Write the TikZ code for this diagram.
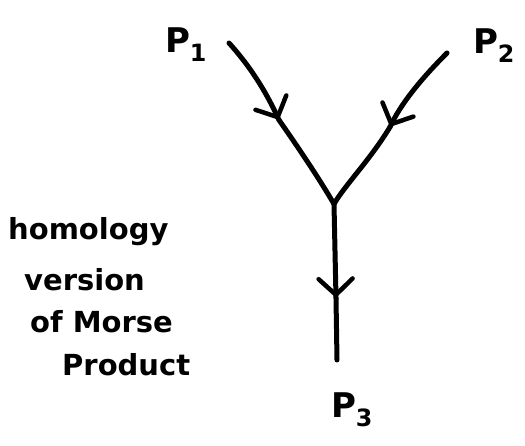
\documentclass[tikz,border=0pt]{standalone}
\usepackage{fontspec}
\setmainfont{DejaVu Sans}
\usetikzlibrary{arrows.meta,decorations.markings}
\tikzset{
  stroke/.style={line width=5pt, line cap=round, line join=round, black},
  endarrow/.style={postaction={decorate},decoration={markings,
    mark=at position #1 with {\arrow{Straight Barb[length=16pt,width=34pt,line width=4.5pt,line cap=round]}}}},
  lbl/.style={font=\bfseries\fontsize{34}{34}\selectfont, inner sep=0pt},
  hand/.style={font=\bfseries\fontsize{29}{29}\selectfont, inner sep=0pt, anchor=west}
}
\begin{document}
\begin{tikzpicture}[x=1pt,y=-1pt]
\useasboundingbox (0,0) rectangle (525,446);
\coordinate (a) at (229,43);
\coordinate (b) at (447,53);
\coordinate (j) at (334,204);
\coordinate (c) at (337,360);
\coordinate (ma) at (279,120);
\coordinate (mb) at (390,127);
\coordinate (mc) at (336,298);
\node[lbl] (p1) at (186,45) {P\textsubscript{1}};
\node[lbl] (p2) at (494,46) {P\textsubscript{2}};
\node[lbl] (p3) at (352,410) {P\textsubscript{3}};
\draw[stroke, endarrow=0.999] (a) .. controls (258,75) and (272,105) .. (ma);
\draw[stroke] (ma) .. controls (300,150) and (320,180) .. (j);
\draw[stroke, endarrow=0.999] (b) .. controls (420,80) and (400,105) .. (mb);
\draw[stroke] (mb) .. controls (370,160) and (345,185) .. (j);
\draw[stroke, endarrow=0.999] (j) -- (mc);
\draw[stroke] (mc) -- (c);
\node[hand] (t1) at (8,232) {homology};
\node[hand] (t2) at (24,280) {version};
\node[hand] (t3) at (30,322) {of Morse};
\node[hand] (t4) at (62,365) {Product};
\end{tikzpicture}
\end{document}
